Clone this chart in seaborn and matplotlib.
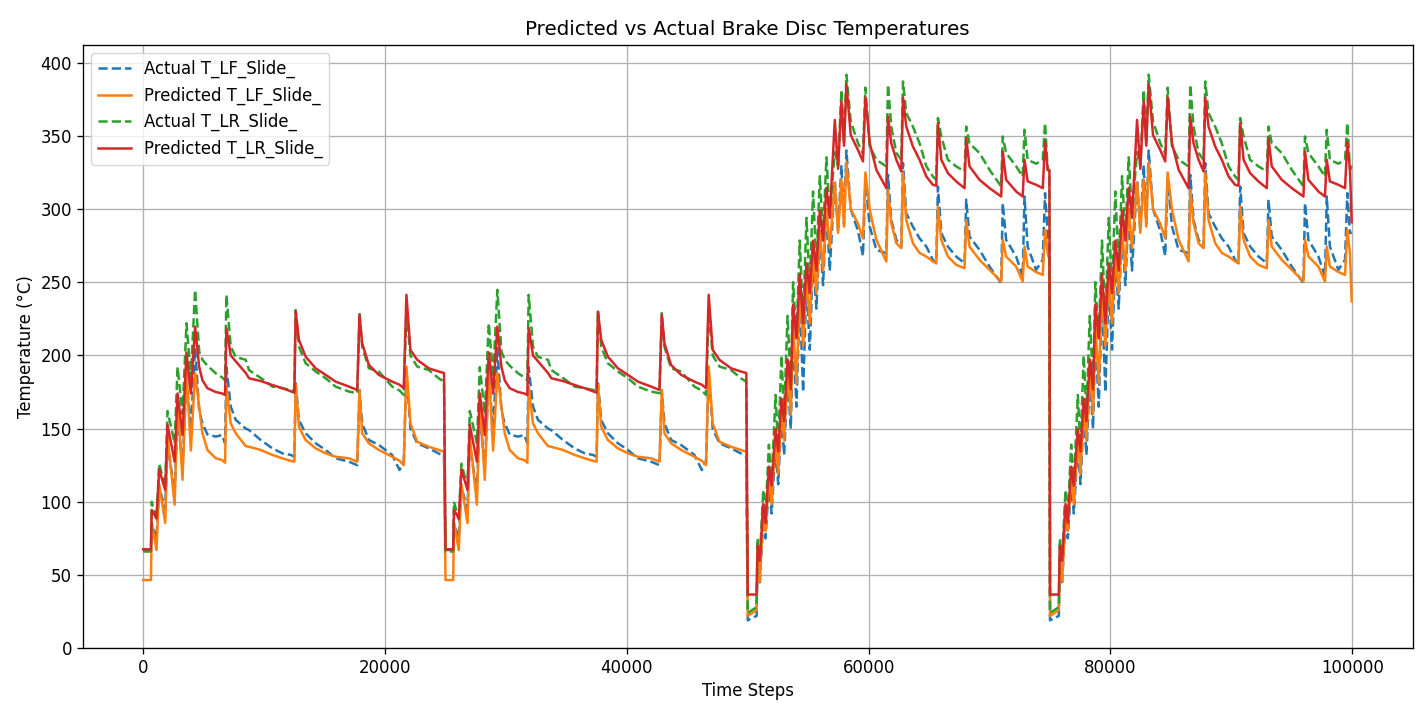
import numpy as np
import pandas as pd
import matplotlib
matplotlib.use("Agg")
import matplotlib.pyplot as plt
import seaborn as sns

# ---------------- data ----------------
# Relative time steps within one "low-load" run (0..25000)
low_run_x = [0, 640, 700, 1100, 1320, 1820, 2010, 2600, 2840, 3250, 3580, 3940,
             4290, 4630, 4900, 5310, 6000, 6520, 6770, 6880, 7240, 7650, 8480,
             8750, 9720, 10680, 11510, 12200, 12500, 12610, 12880, 13430, 14260,
             15090, 15910, 17010, 17700, 17890, 18110, 18660, 19490, 20590,
             21200, 21550, 21770, 22100, 22660, 23620, 24440, 24880]
low_actual_lf = [67, 67, 85, 75, 110, 95, 140, 106, 160, 123, 185, 150,
                 205, 162, 153.6, 146, 144.5, 145.6, 140, 192, 165, 156, 150,
                 149, 142.2, 136.5, 133.1, 132, 130.8, 181, 155.9, 146.8, 140,
                 135.4, 129.7, 127.4, 125, 176, 153.6, 142.2, 138.8, 132,
                 121.7, 128, 190, 150, 140, 136.5, 133, 131]
low_pred_lf = [46.5, 46.5, 86, 67, 112, 85.5, 145, 98, 170, 115, 190, 135,
               188, 165, 146.8, 135.4, 129.7, 128.5, 126.7, 178.7, 153.6, 146.8, 138,
               137.6, 135.4, 132, 129.7, 128, 127.4, 180, 151.3, 142.2, 136.5,
               133.1, 130.8, 129.7, 127.4, 176.4, 146.8, 140, 135.4, 130.8,
               128, 125, 192.4, 153.6, 141, 137.6, 135.4, 134.2]
low_actual_lr = [66, 66, 100, 88, 126, 110, 162, 140, 192, 160, 222, 185,
                 244.8, 202.6, 197, 193, 187.8, 185, 183, 241.4, 206, 199, 197,
                 190, 184.6, 178.7, 177.6, 176.4, 176, 231, 206, 194.7, 189,
                 184.4, 178.7, 175.3, 174.2, 228.9, 206, 191.2, 189, 178.7,
                 176, 173, 231, 200, 192.4, 190, 184.4, 182]
low_pred_lr = [67.5, 67.5, 94.4, 88.7, 122, 108, 152.5, 127.4, 174, 145.6, 202, 174,
               219.7, 192, 183, 177.6, 175, 174, 173, 218.6, 200, 196, 188,
               184.4, 182.5, 179.8, 177.6, 175.5, 174.6, 230, 210.6, 199.2, 191.2,
               186.7, 182.1, 178.7, 176.4, 227.7, 208.3, 193.5, 186.7, 182.1,
               180, 177.6, 241.4, 203.8, 197, 191.2, 189, 188]

# Relative time steps within one "high-load" run (0..25000)
high_run_x = [0, 730, 810, 1000, 1280, 1470, 1750, 1970, 2300, 2520, 2790, 3010,
              3290, 3560, 3750, 4030, 4300, 4580, 4860, 5130, 5400, 5680, 5960,
              6230, 6510, 6780, 7200, 7470, 7750, 7960, 8160, 8520, 9120, 9530,
              9730, 10090, 10640, 11460, 11600, 11870, 12290, 12700, 12840, 13110,
              13660, 14210, 14770, 15310, 15590, 15730, 16010, 16550, 17240, 17930,
              18070, 18340, 19170, 20000, 20960, 21090, 21370, 22200, 22740, 22890,
              23150, 23850, 24400, 24590, 24810, 24950]
high_actual_lf = [19, 22, 60, 45, 88, 75, 112, 92, 138, 112, 160, 132,
                  185, 150, 215, 165, 240, 175, 250, 204, 265, 232, 285,
                  248, 300, 258, 320, 285, 330, 290, 340, 300, 285, 268,
                  320, 288, 272.1, 269.9, 323.4, 292.6, 279, 274.4, 331.4, 297.2,
                  288, 280, 274.4, 265.3, 263, 315.4, 283.6, 274.4, 267.6, 263,
                  306.4, 281.3, 272.1, 260.7, 249.4, 304.1, 279, 267.6, 254, 308.6,
                  274.4, 258.5, 265.3, 310.9, 283.6, 267.6]
high_pred_lf = [22, 26, 62, 45.6, 92, 80, 118, 98.5, 145, 119, 165, 142,
                190, 160, 222, 180.7, 245, 206.5, 255, 221.9, 270, 242.5, 285,
                258, 300, 273.4, 318, 283.8, 320, 288, 332, 300, 290, 280,
                325, 299.5, 279, 264.2, 313.2, 290.4, 276.7, 273.3, 324.6, 292.6,
                276.7, 270, 267.6, 264.2, 263, 301.8, 279, 267.6, 261.9, 259.6,
                292.6, 274.4, 265.3, 258.5, 250.5, 279, 267.6, 260.7, 250.5, 274.4,
                260.7, 257, 255, 285.8, 269.9, 265.3]
high_actual_lr = [24, 28, 75, 60, 108, 90, 139, 112, 173, 138, 200, 160,
                  227, 180, 250, 212, 278.5, 225, 294, 245, 312, 262, 322.5,
                  282, 335.4, 296, 339, 330, 381.5, 345, 391.8, 360, 345, 338,
                  383, 342.8, 333.7, 329.2, 385, 356.4, 338.3, 333.7, 387.2, 365.6,
                  356.4, 345, 329.2, 322.3, 320, 362.2, 349.6, 333.7, 329.2, 325.7,
                  356.4, 345, 338.3, 326.8, 315.5, 349.6, 338.3, 329.2, 322.3, 354.2,
                  333.7, 331, 333.7, 358.8, 326.8, 326.8]
high_pred_lr = [36.6, 36.6, 70, 59.8, 98.5, 85.5, 124, 111, 149.7, 134.4, 170.4, 155,
                197.3, 176.8, 234.8, 211.6, 255.4, 221.9, 263, 242.5, 278.5, 257.9, 299.2,
                278.5, 314.5, 294, 360.9, 327.5, 373.7, 343.3, 385.3, 350.6, 340.3, 332.6,
                376.3, 345, 326.8, 314.3, 363.3, 345, 333.7, 325.7, 376, 356.4,
                342.8, 333.7, 322.3, 316.6, 316, 358.8, 333.7, 324.6, 318.9, 314.3,
                348.5, 329.2, 320, 314.3, 308.6, 339.4, 320, 312, 308.6, 333.7,
                318.9, 316.6, 314.3, 346, 326.8, 326]

# Run layout and the values at the very last time step
run_starts = [0, 25000, 50000, 75000]
run_kinds = ["low", "low", "high", "high"]
final_actual_lf, final_pred_lf, final_actual_lr, final_pred_lr = 284, 237, 330, 291

# ---------------- assemble ----------------
runs = {
    "low": (low_run_x, low_actual_lf, low_pred_lf, low_actual_lr, low_pred_lr),
    "high": (high_run_x, high_actual_lf, high_pred_lf, high_actual_lr, high_pred_lr),
}
xs, alf, plf, alr, plr = [], [], [], [], []
for start, kind in zip(run_starts, run_kinds):
    rx, a1, p1, a2, p2 = runs[kind]
    xs += [start + v for v in rx]
    alf += list(a1); plf += list(p1); alr += list(a2); plr += list(p2)
alf[-1], plf[-1], alr[-1], plr[-1] = final_actual_lf, final_pred_lf, final_actual_lr, final_pred_lr

df = pd.DataFrame({"t": xs, "alf": alf, "plf": plf, "alr": alr, "plr": plr})

# ---------------- plot ----------------
plt.rcParams["font.family"] = ["DejaVu Sans"]
fig = plt.figure(figsize=(14.27, 7.06), dpi=100)
ax = fig.add_axes([0.058, 0.082, 0.932, 0.854])

lw = 1.8
sns.lineplot(data=df, x="t", y="alf", ax=ax, color="#1f77b4", linestyle="--",
             linewidth=lw, label="Actual T_LF_Slide_", estimator=None, sort=False)
sns.lineplot(data=df, x="t", y="plf", ax=ax, color="#ff7f0e", linewidth=lw,
             label="Predicted T_LF_Slide_", estimator=None, sort=False)
sns.lineplot(data=df, x="t", y="alr", ax=ax, color="#2ca02c", linestyle="--",
             linewidth=lw, label="Actual T_LR_Slide_", estimator=None, sort=False)
sns.lineplot(data=df, x="t", y="plr", ax=ax, color="#d62728", linewidth=lw,
             label="Predicted T_LR_Slide_", estimator=None, sort=False)

ax.set_xlim(-5000, 105000)
ax.set_ylim(0, 412)
ax.set_xticks([0, 20000, 40000, 60000, 80000, 100000])
ax.set_yticks([0, 50, 100, 150, 200, 250, 300, 350, 400])
ax.grid(True, color="#b0b0b0", linewidth=0.95)
ax.set_axisbelow(True)
ax.tick_params(labelsize=11.9, length=4.2, width=0.95)
for s in ax.spines.values():
    s.set_linewidth(0.95)
ax.set_title("Predicted vs Actual Brake Disc Temperatures", fontsize=14.3, pad=7)
ax.set_xlabel("Time Steps", fontsize=11.9)
ax.set_ylabel("Temperature (°C)", fontsize=11.9)
ax.legend(loc="upper left", fontsize=11.9)

fig.savefig("out.png", dpi=100)
